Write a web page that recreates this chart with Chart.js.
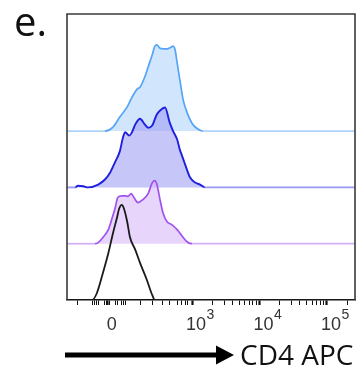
<!DOCTYPE html>
<html>
<head>
<meta charset="utf-8">
<script src="https://cdn.jsdelivr.net/npm/chart.js@4.4.1/dist/chart.umd.min.js"></script>
<style>
  html, body { margin: 0; padding: 0; background: #fff; }
  #wrap { position: relative; width: 357px; height: 370px; overflow: hidden; }
  #cd4Chart { position: absolute; left: 0; top: 0; }
  .panel { position: absolute; left: 14px; top: 1px; font: 40px/40px "Open Sans", sans-serif; color: #111; }
  .axisName { position: absolute; left: 240px; top: 340px; font: 28px/28px "Open Sans", sans-serif; color: #111; white-space: nowrap; }
  #arrow { position: absolute; left: 0; top: 0; }
</style>
</head>
<body>
<div id="wrap">
  <canvas id="cd4Chart" width="357" height="370"></canvas>
  <div class="panel">e.</div>
  <svg id="arrow" width="357" height="370">
    <rect x="65" y="352.5" width="154" height="5" fill="#000"/>
    <polygon points="216,345.5 234,355 216,364.5" fill="#000"/>
  </svg>
  <div class="axisName">CD4 APC</div>
</div>
<script>
// --- Dati (asse x in unità "decadi" del display logicle) ---
// asse: 0 -> ~1.78, 10^3 -> 3, 10^4 -> 4, 10^5 -> 5
const X_MIN = 1.148;
const X_MAX = 5.415;

const seriesNames = ['isotype', 'sample 1', 'sample 2', 'sample 3'];

// istogramma nero (controllo, senza riempimento)
const blackX = [1.15, 1.52, 1.59, 1.68, 1.76, 1.83, 1.89, 1.92, 1.96, 1.99, 2.04, 2.08, 2.16, 2.23, 2.33, 2.41, 2.45, 5.42];
const blackY = [0, 0, 0.12, 0.48, 0.83, 1.19, 1.47, 1.62, 1.69, 1.63, 1.39, 1.12, 0.89, 0.66, 0.36, 0.09, 0, 0];

// istogramma viola
const purpleX = [1.15, 1.56, 1.61, 1.68, 1.76, 1.81, 1.86, 1.90, 1.96, 2.01, 2.05, 2.10, 2.14, 2.20, 2.27, 2.35, 2.41, 2.45, 2.48, 2.53, 2.57, 2.63, 2.70, 2.78, 2.85, 2.93, 3.00, 5.42];
const purpleY = [0, 0, 0.02, 0.11, 0.25, 0.43, 0.63, 0.82, 0.85, 0.85, 0.84, 0.89, 0.82, 0.73, 0.78, 0.89, 1.08, 1.12, 1.05, 0.76, 0.55, 0.39, 0.34, 0.25, 0.14, 0.03, 0, 0];

// istogramma blu
const blueX = [1.15, 1.27, 1.31, 1.39, 1.46, 1.61, 1.71, 1.79, 1.86, 1.93, 1.98, 2.01, 2.07, 2.11, 2.16, 2.23, 2.30, 2.35, 2.41, 2.48, 2.54, 2.60, 2.67, 2.72, 2.78, 2.82, 2.85, 2.90, 2.97, 3.04, 3.12, 3.19, 5.42];
const blueY = [0, 0, 0.03, 0.02, 0, 0.05, 0.14, 0.27, 0.45, 0.64, 0.90, 0.98, 0.92, 0.98, 1.12, 1.22, 1.12, 1.06, 1.10, 1.30, 1.38, 1.42, 1.15, 1.00, 0.85, 0.67, 0.57, 0.40, 0.18, 0.09, 0.05, 0, 0];

// istogramma azzurro
const lightBlueX = [1.15, 1.71, 1.83, 1.93, 2.04, 2.11, 2.19, 2.23, 2.30, 2.35, 2.41, 2.45, 2.48, 2.53, 2.63, 2.69, 2.72, 2.75, 2.78, 2.82, 2.87, 2.93, 3.00, 3.07, 3.16, 5.42];
const lightBlueY = [0, 0, 0.07, 0.25, 0.43, 0.60, 0.75, 0.78, 0.96, 1.14, 1.35, 1.51, 1.53, 1.47, 1.46, 1.49, 1.51, 1.44, 1.21, 0.91, 0.55, 0.32, 0.14, 0.05, 0, 0];

// --- Tacche dell'asse x ---
const majorTicks = [1.75, 3, 4, 5];
const majorLabels = ['0', '10', '10', '10'];
const majorExponents = ['', '3', '4', '5'];
const minorTicks = [1.30, 1.52, 1.55, 1.58, 1.61, 1.70, 1.73, 1.78, 1.86, 1.90, 1.95, 1.98, 2.01,
  2.23, 2.41, 2.56, 2.67, 2.78, 2.85, 2.90, 2.94,
  3.30, 3.48, 3.60, 3.70, 3.78, 3.85, 3.90, 3.95,
  4.30, 4.48, 4.60, 4.70, 4.78, 4.85, 4.90, 4.95, 5.30];

// --- Stile ---
const LANE_TOP = 5.08;
const LABEL_OFFSET = 4;
const TICK_FONT = { family: '"Liberation Sans", Arial, sans-serif', size: 18 };

function toPoints(xs, ys, base) {
  return xs.map((x, i) => ({ x: x, y: base + ys[i] }));
}

function makeDataset(name, xs, ys, base, line, baseLine, fillColor, width) {
  return {
    label: name,
    data: toPoints(xs, ys, base),
    borderColor: line,
    borderWidth: width,
    backgroundColor: fillColor || 'transparent',
    fill: fillColor ? { value: base } : false,
    pointRadius: 0,
    cubicInterpolationMode: 'monotone',
    segment: {
      borderColor: ctx => (ctx.p0.parsed.y === base && ctx.p1.parsed.y === base) ? baseLine : undefined
    }
  };
}

// Cornice attorno all'area del grafico
const framePlugin = {
  id: 'frame',
  afterDatasetsDraw(chart) {
    const a = chart.chartArea;
    const c = chart.ctx;
    c.save();
    c.strokeStyle = '#3a3a3a';
    c.lineWidth = 1.6;
    c.beginPath();
    c.moveTo(a.left, a.bottom);
    c.lineTo(a.left, a.top);
    c.lineTo(a.right, a.top);
    c.lineTo(a.right, a.bottom);
    c.stroke();
    c.restore();
  }
};

// Esponenti delle etichette 10^n
const exponentPlugin = {
  id: 'exponents',
  afterDraw(chart) {
    const sx = chart.scales.x;
    const c = chart.ctx;
    c.save();
    c.font = '18px "Liberation Sans", Arial, sans-serif';
    const half = c.measureText('10').width / 2;
    c.font = '14px "Liberation Sans", Arial, sans-serif';
    c.fillStyle = '#333';
    c.textBaseline = 'top';
    c.textAlign = 'left';
    majorTicks.forEach((v, i) => {
      if (!majorExponents[i]) return;
      const px = sx.getPixelForValue(v) + LABEL_OFFSET + half + 0.5;
      c.fillText(majorExponents[i], px, sx.top + 8);
    });
    c.restore();
  }
};

const ctx = document.getElementById('cd4Chart').getContext('2d');
const cd4Chart = new Chart(ctx, {
  type: 'line',
  data: {
    datasets: [
      makeDataset(seriesNames[0], blackX, blackY, 0, '#1a1a1a', '#1a1a1a', null, 1.8),
      makeDataset(seriesNames[1], purpleX, purpleY, 1, '#a052ee', '#d2b0f7', 'rgba(220,190,250,0.65)', 1.7),
      makeDataset(seriesNames[2], blueX, blueY, 2, '#1f1fe0', '#9a9af3', 'rgba(160,160,245,0.6)', 1.9),
      makeDataset(seriesNames[3], lightBlueX, lightBlueY, 3, '#55a4f6', '#aed3fa', 'rgba(190,220,252,0.7)', 1.7)
    ]
  },
  options: {
    responsive: false,
    animation: false,
    devicePixelRatio: 1,
    layout: { padding: { left: 67, right: 2, top: 14, bottom: 0 } },
    plugins: { legend: { display: false }, tooltip: { enabled: false } },
    scales: {
      x: {
        type: 'linear',
        min: X_MIN,
        max: X_MAX,
        afterFit: scale => { scale.height = 70; },
        afterBuildTicks: scale => {
          const all = majorTicks.map(v => ({ value: v, major: true }))
            .concat(minorTicks.map(v => ({ value: v, major: false })));
          all.sort((a, b) => a.value - b.value);
          scale.ticks = all;
        },
        border: { display: true, color: '#111', width: 1.5 },
        grid: {
          drawOnChartArea: false,
          drawTicks: true,
          tickLength: 5,
          tickColor: '#111',
          tickWidth: c => (c.tick && c.tick.major) ? 2.2 : 1
        },
        ticks: {
          autoSkip: false,
          maxRotation: 0,
          minRotation: 0,
          padding: 9,
          labelOffset: LABEL_OFFSET,
          color: '#333',
          font: TICK_FONT,
          callback: value => {
            const i = majorTicks.indexOf(value);
            return i >= 0 ? majorLabels[i] : '';
          }
        }
      },
      y: {
        display: false,
        min: 0,
        max: LANE_TOP
      }
    }
  },
  plugins: [framePlugin, exponentPlugin]
});
</script>
</body>
</html>
